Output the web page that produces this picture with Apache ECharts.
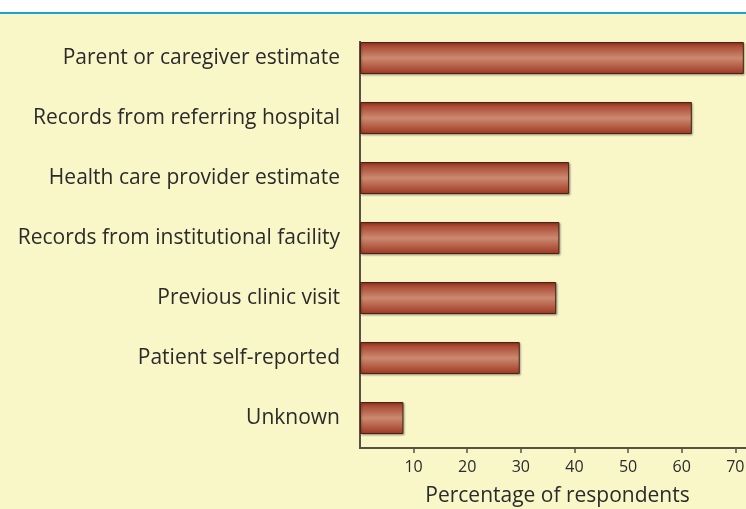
<!DOCTYPE html>
<html>
<head>
<meta charset="utf-8">
<script src="https://cdn.jsdelivr.net/npm/echarts@6/dist/echarts.min.js"></script>
<style>
  html, body { margin: 0; padding: 0; background: #ffffff; }
  #chart { width: 746px; height: 509px; }
</style>
</head>
<body>
<div id="chart"></div>
<script>
// categories, top to bottom
const sources = [
  'Parent or caregiver estimate',
  'Records from referring hospital',
  'Health care provider estimate',
  'Records from institutional facility',
  'Previous clinic visit',
  'Patient self-reported',
  'Unknown'
];
// percentage of respondents
const percents = [71.6, 61.9, 39.0, 37.2, 36.6, 29.8, 8.1];
const tickValues = [10, 20, 30, 40, 50, 60, 70];

const chart = echarts.init(document.getElementById('chart'));

const barFill = new echarts.graphic.LinearGradient(0, 0, 0, 1, [
  {offset: 0, color: '#a03620'},
  {offset: 0.5, color: '#cb8a70'},
  {offset: 1, color: '#a03620'}
]);

const option = {
  backgroundColor: '#f9f6c8',
  textStyle: {fontFamily: 'Open Sans'},
  graphic: [
    {type: 'rect', left: 0, top: 0, shape: {width: 746, height: 12}, style: {fill: '#ffffff'}, silent: true},
    {type: 'rect', left: 0, top: 12, shape: {width: 746, height: 2}, style: {fill: '#1aa3d8'}, silent: true},
    // y axis line only runs from the first bar down
    {type: 'line', shape: {x1: 360, y1: 41, x2: 360, y2: 449},
      style: {stroke: '#5b5142', lineWidth: 2}, silent: true}
  ],
  grid: {left: 360, right: 0, top: 28, bottom: 61, outerBoundsMode: 'none'},
  xAxis: {
    type: 'value',
    min: 0,
    max: 72,
    interval: 10,
    splitLine: {show: false},
    axisLine: {show: true, lineStyle: {color: '#5b5142', width: 2}},
    axisTick: {show: true, length: 5, lineStyle: {color: '#5b5142', width: 1.5},
      customValues: tickValues},
    axisLabel: {
      color: '#2b2b2b', fontSize: 16, margin: 11,
      customValues: tickValues
    },
    name: 'Percentage of respondents',
    nameLocation: 'middle',
    nameGap: 38,
    nameTextStyle: {color: '#2b2b2b', fontSize: 21, padding: [0, 0, 0, 9]}
  },
  yAxis: {
    type: 'category',
    inverse: true,
    data: sources,
    axisLine: {show: false},
    axisTick: {show: false},
    axisLabel: {color: '#2b2b2b', fontSize: 21, margin: 20}
  },
  series: [{
    type: 'bar',
    data: percents,
    barWidth: 32,
    itemStyle: {
      color: barFill,
      borderColor: '#4a2418',
      borderWidth: 1,
      shadowColor: 'rgba(0,0,0,0.3)',
      shadowBlur: 2,
      shadowOffsetX: 1,
      shadowOffsetY: 1
    },
    emphasis: {disabled: true},
    animation: false
  }]
};
chart.setOption(option);
</script>
</body>
</html>
